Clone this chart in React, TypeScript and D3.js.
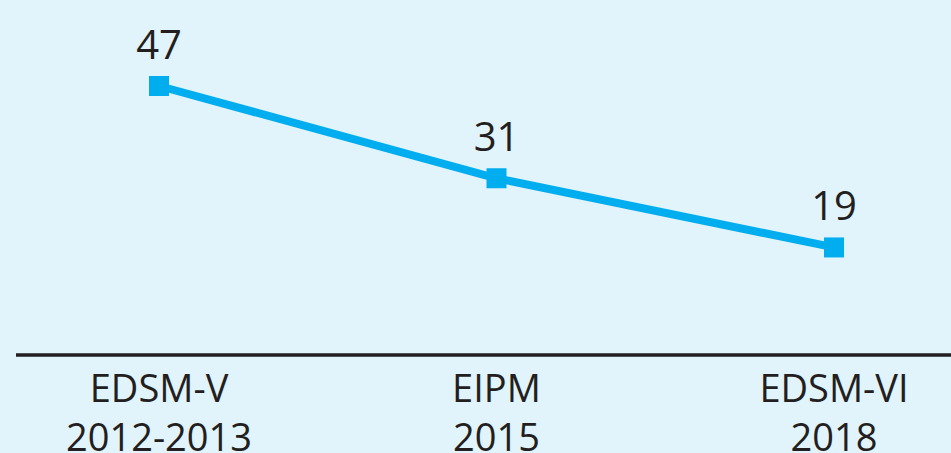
import React from "react";
import * as d3 from "d3";

const categoriesLine1 = ["EDSM-V", "EIPM", "EDSM-VI"];
const categoriesLine2 = ["2012-2013", "2015", "2018"];
const values = [47, 31, 19];

const W = 951;
const H = 453;

export default function App() {
  const keys = categoriesLine1.map((_, i) => String(i));
  const x = d3.scalePoint<string>().domain(keys).range([159, 834]);
  const y = d3.scaleLinear().domain([0, 47]).range([357, 86]);
  const data = values.map((v, i) => ({ k: keys[i], v }));
  const line = d3
    .line<{ k: string; v: number }>()
    .x((d) => x(d.k)!)
    .y((d) => y(d.v));
  const font = "'Open Sans', 'Noto Sans', sans-serif";
  const ink = "#231f20";
  return (
    <svg
      width={W}
      height={H}
      style={{ position: "absolute", left: 0, top: 0, display: "block" }}
    >
      <rect x={0} y={0} width={W} height={H} fill="#e1f3fb" />
      <line x1={16} x2={W} y1={355} y2={355} stroke={ink} strokeWidth={3.5} />
      <path d={line(data)!} fill="none" stroke="#00aeef" strokeWidth={8} />
      {data.map((d) => (
        <rect
          key={"m" + d.k}
          x={x(d.k)! - 10}
          y={y(d.v) - 10}
          width={20}
          height={20}
          fill="#00aeef"
        />
      ))}
      {data.map((d) => (
        <text
          key={"t" + d.k}
          x={x(d.k)!}
          y={y(d.v) - 27}
          textAnchor="middle"
          fontFamily={font}
          fontSize={40}
          fill={ink}
        >
          {d.v}
        </text>
      ))}
      {keys.map((k, i) => (
        <g key={"c" + k}>
          <text
            x={x(k)!}
            y={402}
            textAnchor="middle"
            fontFamily={font}
            fontSize={38}
            fill={ink}
          >
            {categoriesLine1[i]}
          </text>
          <text
            x={x(k)!}
            y={451}
            textAnchor="middle"
            fontFamily={font}
            fontSize={38}
            fill={ink}
          >
            {categoriesLine2[i]}
          </text>
        </g>
      ))}
    </svg>
  );
}
